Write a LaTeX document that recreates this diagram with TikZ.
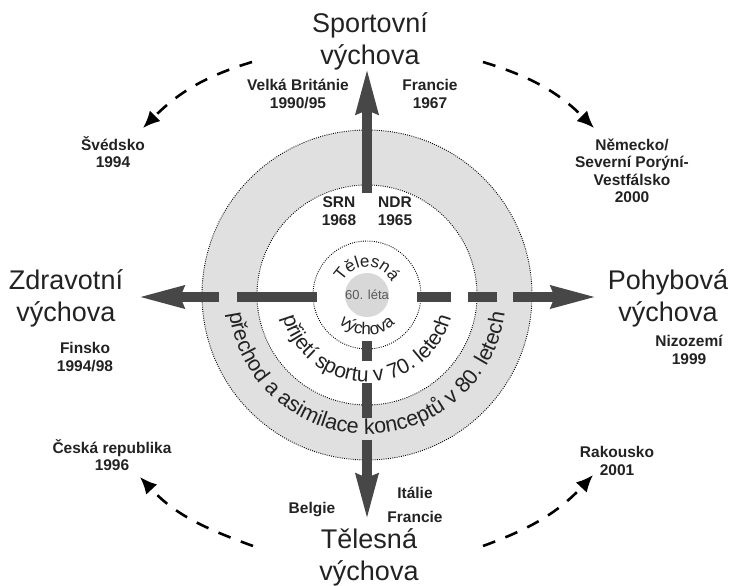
\documentclass[tikz,border=0pt]{standalone}
\usepackage{fontspec}
\setmainfont{Liberation Sans}
\usetikzlibrary{arrows.meta,decorations.text}
\definecolor{barc}{HTML}{474747}
\definecolor{ringc}{HTML}{E0E0E0}
\definecolor{corec}{HTML}{D8D8D8}
\definecolor{ink}{HTML}{222222}
\begin{document}
\begin{tikzpicture}[x=1pt,y=1pt,
  bigbar/.style={draw=barc, line width=9.5pt},
  bighead/.style={-{Stealth[length=45pt,width=21pt,inset=3pt]}},
  dotcirc/.style={draw=black, line width=0.9pt, dash pattern=on 0.9pt off 1.3pt},
  biglabel/.style={font=\fontsize{27}{32}\selectfont, text=ink, align=center},
  smalllabel/.style={font=\fontsize{15.5}{17.5}\selectfont\bfseries, text=ink, align=center},
  dasharrow/.style={draw=black, line width=2.6pt, dash pattern=on 13pt off 11pt, -{Latex[length=17pt,width=15pt]}},
]
\useasboundingbox (0,0) rectangle (731,586);
\coordinate (C) at (367,291);
% rings
\fill[ringc] (C) circle[radius=165];
\draw[dotcirc] (C) circle[radius=165];
\fill[white] (C) circle[radius=110];
\draw[dotcirc] (C) circle[radius=110];
\draw[dotcirc] (C) circle[radius=54];
\fill[corec] (C) circle[radius=22];
\node[font=\fontsize{13}{13}\selectfont, text=black!65] (sixty) at (C) {60. léta};
% bars
\coordinate (t0) at (367,393); \coordinate (t1) at (367,518);
\draw[bigbar,bighead] (t0) -- (t1);
\coordinate (l0) at (317,289); \coordinate (l1) at (237,289);
\coordinate (l2) at (219,289); \coordinate (l3) at (138,289);
\draw[bigbar] (l0) -- (l1);
\draw[bigbar,bighead] (l2) -- (l3);
\coordinate (r0) at (417,289); \coordinate (r1) at (451,289);
\coordinate (r2) at (468,289); \coordinate (r3) at (497,289);
\coordinate (r4) at (513,289); \coordinate (r5) at (597,289);
\draw[bigbar] (r0) -- (r1);
\draw[bigbar] (r2) -- (r3);
\draw[bigbar,bighead] (r4) -- (r5);
\coordinate (b0) at (367,245); \coordinate (b1) at (367,225);
\coordinate (b2) at (367,203); \coordinate (b3) at (367,168);
\coordinate (b4) at (367,146); \coordinate (b5) at (367,66);
\draw[bigbar] (b0) -- (b1);
\draw[bigbar] (b2) -- (b3);
\draw[bigbar,bighead] (b4) -- (b5);
% curved texts
\path[decorate, decoration={text along path, text align=center, text color=ink,
  text={|\fontsize{17}{17}\selectfont|Tělesná}}]
  ([shift={(180:28)}]C) arc[start angle=180, end angle=0, radius=28];
\path[decorate, decoration={text along path, text align=center, text color=ink,
  text={|\fontsize{17}{17}\selectfont|výchova}}]
  ([shift={(180:40)}]C) arc[start angle=180, end angle=360, radius=40];
\path[decorate, decoration={text along path, text align=center, text color=ink,
  text={|\fontsize{21}{21}\selectfont|přijetí sportu v 70. letech}}]
  ([shift={(180:87)}]C) arc[start angle=180, end angle=360, radius=87];
\path[decorate, decoration={text along path, text align=center, text color=ink,
  text={|\fontsize{21.5}{21.5}\selectfont|přechod a asimilace konceptů v 80. letech}}]
  ([shift={(180:139)}]C) arc[start angle=180, end angle=360, radius=139];
% big labels
\node[biglabel] (sport) at (370,545) {Sportovní\\výchova};
\node[biglabel] (zdrav) at (66,288) {Zdravotní\\výchova};
\node[biglabel] (pohyb) at (668,288) {Pohybová\\výchova};
\node[biglabel] (teles) at (369,29) {Tělesná\\výchova};
% small labels
\node[smalllabel] (vb) at (298,492) {Velká Británie\\1990/95};
\node[smalllabel] (fr) at (430,492) {Francie\\1967};
\node[smalllabel] (sv) at (113,434) {Švédsko\\1994};
\node[smalllabel] (nem) at (632,415) {Německo/\\Severní Porýní-\\Vestfálsko\\2000};
\node[smalllabel] (srn) at (339,375) {SRN\\1968};
\node[smalllabel] (ndr) at (395,375) {NDR\\1965};
\node[smalllabel] (fin) at (85,229) {Finsko\\1994/98};
\node[smalllabel] (niz) at (689,236) {Nizozemí\\1999};
\node[smalllabel] (cr) at (112,131) {Česká republika\\1996};
\node[smalllabel] (rak) at (617,125) {Rakousko\\2001};
\node[smalllabel] (bel) at (312,76) {Belgie};
\node[smalllabel] (itf) at (415,81) {Itálie\\[6pt]Francie};
% dashed arrows
\coordinate (a1s) at (252,524); \coordinate (a1e) at (143,458);
\draw[dasharrow] (a1s) to[out=197,in=45] (a1e);
\coordinate (a2s) at (483,524); \coordinate (a2e) at (594,458);
\draw[dasharrow] (a2s) to[out=-17,in=135] (a2e);
\coordinate (a3s) at (253,40); \coordinate (a3e) at (140,109);
\draw[dasharrow] (a3s) to[out=160,in=-47] (a3e);
\coordinate (a4s) at (483,40); \coordinate (a4e) at (593,111);
\draw[dasharrow] (a4s) to[out=20,in=227] (a4e);
\end{tikzpicture}
\end{document}
